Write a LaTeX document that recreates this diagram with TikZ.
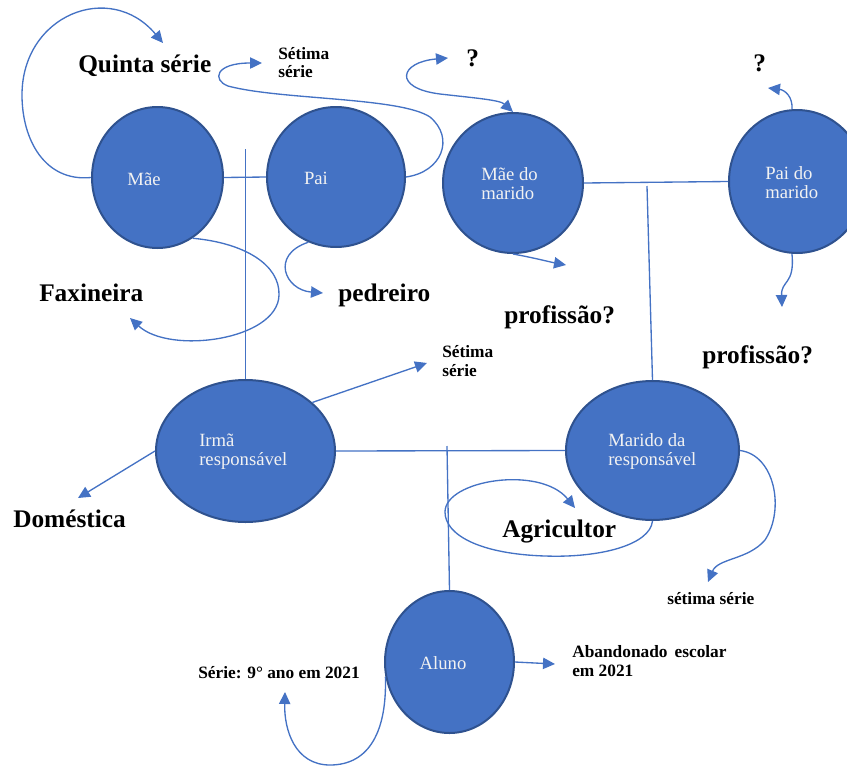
\documentclass[tikz,border=0pt]{standalone}
\usepackage{fontspec}
\setmainfont{Liberation Serif}
\usetikzlibrary{shapes.geometric,arrows.meta}
\definecolor{nodeblue}{HTML}{4472C4}
\definecolor{nodeedge}{HTML}{2F528F}
\definecolor{nodetext}{HTML}{F2F2F2}

\begin{document}
\begin{tikzpicture}[x=0.75pt,y=-0.75pt,
  person/.style={ellipse, draw=nodeedge, fill=nodeblue, line width=1.5pt, inner sep=0pt},
  who/.style={text=nodetext, font=\fontsize{14}{14.25}\selectfont, align=left, inner sep=0pt},
  bigtag/.style={font=\bfseries\fontsize{19}{21}\selectfont, inner sep=0pt, anchor=base west},
  smalltag/.style={font=\bfseries\fontsize{13}{14}\selectfont, inner sep=0pt, anchor=base west, align=left},
  link/.style={draw=nodeblue, line width=1pt},
  arrowlink/.style={link, -{Triangle[length=9pt,width=8.5pt]}},
  bothlink/.style={link, {Triangle[length=9pt,width=8.5pt]}-{Triangle[length=9pt,width=8.5pt]}},
]
\useasboundingbox (0,0) rectangle (847,768);

% family members
\node[person, minimum width=98.25pt, minimum height=105.75pt] (mae) at (157.5,177.5) {};
\node[person, minimum width=103.5pt, minimum height=105pt] (pai) at (336,177) {};
\node[person, minimum width=105pt, minimum height=105pt] (mdm) at (513,183) {};
\node[person, minimum width=102pt, minimum height=107.25pt] (pdm) at (797,181.5) {};
\node[person, minimum width=134.25pt, minimum height=106.5pt] (irma) at (245.5,451) {};
\node[person, minimum width=129.75pt, minimum height=104.25pt] (marido) at (652.5,450.5) {};
\node[person, minimum width=96.75pt, minimum height=106.5pt] (aluno) at (449.5,662) {};

\node[who] (maeT) at (144,179) {Mãe};
\node[who] (paiT) at (316,178) {Pai};
\node[who, anchor=west] (mdmT) at (481,183.5) {Mãe do\\marido};
\node[who, anchor=west] (pdmT) at (765,183) {Pai do\\marido};
\node[who, anchor=west] (irmaT) at (199,451.5) {Irmã\\responsável};
\node[who, anchor=west] (maridoT) at (608,451.5) {Marido da\\responsável};
\node[who] (alunoT) at (443,663) {Aluno};

% annotations (multi-line ones are placed by the baseline of their last line)
\node[bigtag] (quinta) at (78,72) {Quinta série};
\node[smalltag, font=\bfseries\fontsize{13}{13}\selectfont] (setimaA) at (278,77) {Sétima\\série};
\node[bigtag] (qA) at (466,66) {?};
\node[bigtag] (qB) at (753,71) {?};
\node[bigtag] (faxineira) at (39,301) {Faxineira};
\node[bigtag] (pedreiro) at (338,301) {pedreiro};
\node[bigtag] (profA) at (504,323) {profissão?};
\node[bigtag] (profB) at (702,363) {profissão?};
\node[smalltag] (setimaB) at (442,376) {Sétima\\série};
\node[bigtag] (domestica) at (13,527) {Doméstica};
\node[bigtag] (agricultor) at (502,537) {Agricultor};
\node[smalltag] (setimaC) at (667,604) {sétima série};
\node[smalltag] (serie) at (198,678) {Série: 9° ano em 2021};
\node[smalltag] (abandono) at (572,676) {Abandonado\hspace{2pt} escolar\\em 2021};

% arrow ends and line junctions
\coordinate (quintaTip) at (163,43);
\coordinate (setimaATip) at (262,63);
\coordinate (qATip) at (448,58);
\coordinate (qBTip) at (768,88);
\coordinate (faxTip) at (130,318);
\coordinate (pedTip) at (323,293);
\coordinate (profATip) at (566,265);
\coordinate (profBTip) at (782,307);
\coordinate (setimaBTip) at (427,363);
\coordinate (domTip) at (78,498);
\coordinate (agrTip) at (575,508);
\coordinate (setimaCTip) at (708,582);
\coordinate (serieTip) at (285,692);
\coordinate (abTip) at (555,664);
\coordinate (paisDrop) at (245.5,149);
\coordinate (sogrosDrop) at (647,186);
\coordinate (casalDrop) at (447,446);

% kinship lines
\draw[link] (mae.east) -- (pai.west);
\draw[link] (paisDrop) -- (irma.north);
\draw[link] (mdm.east) -- (pdm.west);
\draw[link] (sogrosDrop) -- (marido.north);
\draw[link] (irma.east) -- (marido.west);
\draw[link] (casalDrop) -- (aluno.north);

% schooling and occupation arrows
\draw[arrowlink] (mae.west) .. controls (45,182) and (22,140) .. (22,95)
  .. controls (22,15) and (110,-20) .. (quintaTip);
\draw[arrowlink] (pai.east) .. controls (442,172) and (455,138) .. (430,117)
  .. controls (400,97) and (280,100) .. (228,86)
  .. controls (212,80) and (215,63) .. (setimaATip);
\draw[bothlink] (qATip) .. controls (400,62) and (392,88) .. (440,94)
  .. controls (475,98) and (500,100) .. (mdm.north);
\draw[arrowlink] (pdm.94) .. controls (793,97) and (785,90) .. (qBTip);
\draw[arrowlink] (pdm.266) .. controls (795,285) and (781,280) .. (profBTip);
\draw[arrowlink] (mdm.south) .. controls (535,258) and (550,262) .. (profATip);
\draw[arrowlink] (mae.-60) .. controls (245,243) and (280,265) .. (279,295)
  .. controls (278,340) and (170,355) .. (faxTip);
\draw[arrowlink] (pai.-113) .. controls (270,255) and (285,290) .. (pedTip);
\draw[arrowlink] (irma.36) -- (setimaBTip);
\draw[arrowlink] (irma.west) -- (domTip);
\draw[arrowlink] (marido.south) .. controls (650,545) and (600,558) .. (545,556)
  .. controls (480,554) and (445,535) .. (445,512)
  .. controls (445,480) and (540,465) .. (agrTip);
\draw[arrowlink] (marido.east) .. controls (775,455) and (785,510) .. (765,540)
  .. controls (748,560) and (718,558) .. (setimaCTip);
\draw[arrowlink] (aluno.east) -- (abTip);
\draw[arrowlink] (aluno.-167) .. controls (387,730) and (370,765) .. (330,765)
  .. controls (295,765) and (284,730) .. (serieTip);
\end{tikzpicture}
\end{document}
